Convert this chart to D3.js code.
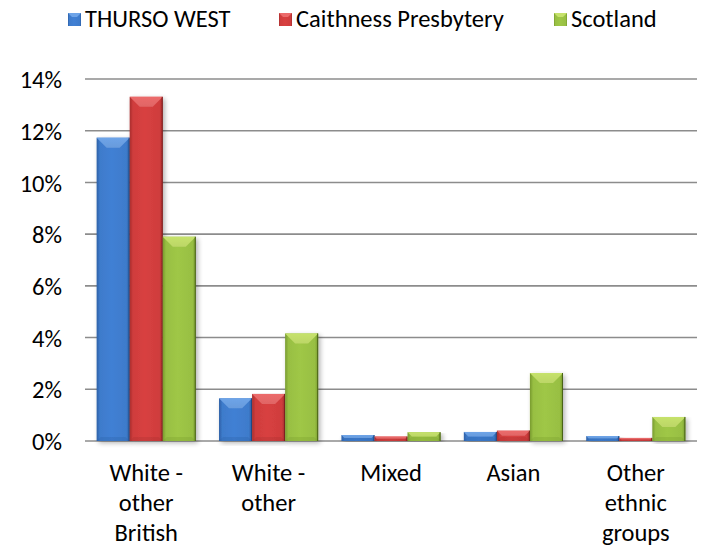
<!DOCTYPE html>
<html>
<head>
<meta charset="utf-8">
<script src="https://cdn.jsdelivr.net/npm/d3@7"></script>
<style>
  html, body { margin: 0; padding: 0; background: #ffffff; }
  svg { display: block; }
  text { font-family: Carlito, Calibri, Lato, "Liberation Sans", sans-serif; fill: #000; }
</style>
</head>
<body>
<svg id="chart" width="701" height="547"></svg>
<script>
// ---- data ----
const categories = [["White -", "other", "British"], ["White -", "other"], ["Mixed"], ["Asian"], ["Other", "ethnic", "groups"]];
const seriesNames = ["THURSO WEST", "Caithness Presbytery", "Scotland"];
const thursoWest = [11.73, 1.65, 0.23, 0.35, 0.19];
const caithness = [13.31, 1.82, 0.17, 0.40, 0.12];
const scotland = [7.90, 4.16, 0.34, 2.63, 0.93];
const yTicks = [0, 2, 4, 6, 8, 10, 12, 14];

const seriesValues = [thursoWest, caithness, scotland];
const palette = [
  { main: "#3e7bcb", light: "#6ea4e8", dark: "#2c5fa6", edge: "#1f4a85" },
  { main: "#cf3d3d", light: "#ec6b6b", dark: "#a82e2e", edge: "#7e1f1f" },
  { main: "#98bf43", light: "#c6e26c", dark: "#789a2e", edge: "#4a6318" }
];
const FS = "24.5px";

const svg = d3.select("#chart");
const x0 = d3.scaleBand().domain(d3.range(categories.length)).range([85, 697]).paddingInner(0.19).paddingOuter(0.095);
const x1 = d3.scaleBand().domain(d3.range(seriesNames.length)).range([0, x0.bandwidth()]);
const y = d3.scaleLinear().domain([0, 14]).range([441, 79]);

const defs = svg.append("defs");
palette.forEach((c, i) => {
  const g = defs.append("linearGradient").attr("id", "grad" + i).attr("x1", "0").attr("x2", "1").attr("y1", "0").attr("y2", "0");
  g.append("stop").attr("offset", "0").attr("stop-color", c.dark);
  g.append("stop").attr("offset", "0.1").attr("stop-color", c.main);
  g.append("stop").attr("offset", "0.45").attr("stop-color", d3.color(c.main).brighter(0.12));
  g.append("stop").attr("offset", "0.9").attr("stop-color", c.main);
  g.append("stop").attr("offset", "1").attr("stop-color", c.dark);
  const t = defs.append("linearGradient").attr("id", "top" + i).attr("x1", "0").attr("x2", "0").attr("y1", "0").attr("y2", "1");
  t.append("stop").attr("offset", "0").attr("stop-color", c.light);
  t.append("stop").attr("offset", "1").attr("stop-color", d3.color(c.light).darker(0.15));
});
const sh = defs.append("filter").attr("id", "shadow").attr("x", "-20%").attr("y", "-5%").attr("width", "150%").attr("height", "115%");
sh.append("feGaussianBlur").attr("in", "SourceAlpha").attr("stdDeviation", 2.5).attr("result", "b");
sh.append("feOffset").attr("in", "b").attr("dx", 2).attr("dy", 2).attr("result", "o");
sh.append("feComponentTransfer").attr("in", "o").attr("result", "s").append("feFuncA").attr("type", "linear").attr("slope", 0.3);
const mg = sh.append("feMerge");
mg.append("feMergeNode").attr("in", "s");
mg.append("feMergeNode").attr("in", "SourceGraphic");

// gridlines
svg.append("g").selectAll("line").data(yTicks).join("line")
  .attr("x1", 85).attr("x2", 697)
  .attr("y1", d => y(d)).attr("y2", d => y(d))
  .attr("stroke", "#8c8c8c").attr("stroke-width", 1.6);

// y axis labels
const yAxis = d3.axisLeft(y).tickValues(yTicks).tickFormat(d => d + "%").tickSize(0).tickPadding(0);
const ya = svg.append("g").attr("transform", "translate(62,0)").call(yAxis);
ya.select(".domain").remove();
ya.selectAll("text").style("font-size", FS).style("font-family", null).attr("dy", "0.35em");

// bars
const groups = svg.append("g").selectAll("g").data(categories).join("g")
  .attr("transform", (d, i) => `translate(${x0(i)},0)`);
groups.each(function (cat, ci) {
  const g = d3.select(this);
  seriesValues.forEach((vals, si) => {
    const v = vals[ci];
    const bx = x1(si), bw = x1.bandwidth();
    const top = y(v), bot = y(0), h = bot - top;
    const c = palette[si];
    const bar = g.append("g").attr("filter", "url(#shadow)");
    bar.append("rect").attr("x", bx).attr("y", top).attr("width", bw).attr("height", h).attr("fill", `url(#grad${si})`);
    const bev = Math.min(10, h / 2, bw / 2);
    // top bevel
    bar.append("path").attr("d", `M${bx},${top}L${bx + bw},${top}L${bx + bw - bev},${top + bev}L${bx + bev},${top + bev}Z`).attr("fill", `url(#top${si})`);
    // bottom bevel
    const bb = Math.min(4, h / 2);
    bar.append("path").attr("d", `M${bx},${bot}L${bx + bw},${bot}L${bx + bw - bb},${bot - bb}L${bx + bb},${bot - bb}Z`).attr("fill", c.dark).attr("opacity", 0.3);
    // right edge
    bar.append("line").attr("x1", bx + bw - 0.5).attr("x2", bx + bw - 0.5).attr("y1", top).attr("y2", bot).attr("stroke", c.edge).attr("stroke-width", 1);
  });
});

// x labels
groups.each(function (cat, ci) {
  const t = d3.select(this).append("text").attr("text-anchor", "middle").style("font-size", FS);
  cat.forEach((line, li) => {
    t.append("tspan").attr("x", x0.bandwidth() / 2).attr("y", 481 + li * 30).text(line);
  });
});

// legend
const legendX = [68, 279, 554];
const lg = svg.append("g").selectAll("g").data(seriesNames).join("g")
  .attr("transform", (d, i) => `translate(${legendX[i]},0)`);
lg.append("rect").attr("x", 0).attr("y", 13).attr("width", 13).attr("height", 13)
  .attr("fill", (d, i) => `url(#grad${i})`);
lg.append("path").attr("d", "M0,13L13,13L9,17L4,17Z").attr("fill", (d, i) => palette[i].light);
lg.append("text").attr("x", 17).attr("y", 27).style("font-size", FS).text(d => d);
</script>
</body>
</html>
